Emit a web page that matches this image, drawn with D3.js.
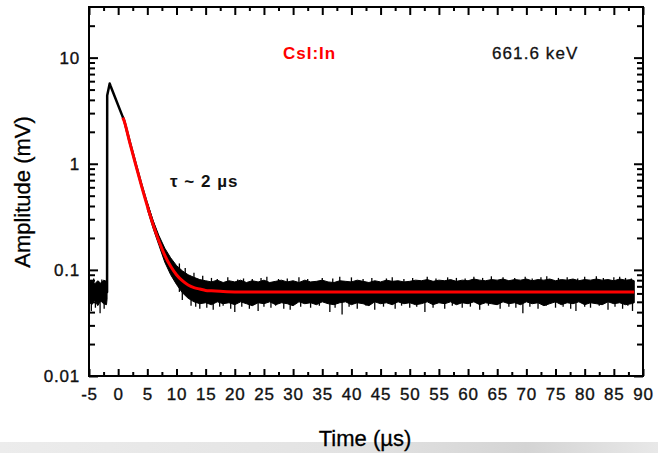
<!DOCTYPE html>
<html>
<head>
<meta charset="utf-8">
<script src="https://cdn.jsdelivr.net/npm/d3@7"></script>
<style>
  body { margin: 0; background: #fff; }
  svg { display: block; font-family: Arial, "Liberation Sans", sans-serif; }
</style>
</head>
<body>
<div id="chart"></div>
<script>

// axis ticks
var xTicks = [-5, 0, 5, 10, 15, 20, 25, 30, 35, 40, 45, 50, 55, 60, 65, 70, 75, 80, 85, 90];
var yTicks = [0.01, 0.1, 1, 10];
var yTickLabels = ['0.01', '0.1', '1', '10'];

var pulseTime = [-5, -1.9, -1.88, -1.45, -1.3, 0.8, 1, 2, 3, 4, 5, 6, 7, 8, 9];
var pulseAmp  = [0.062, 0.062, 4.4, 5.7, 5.4, 2.75, 2.6, 1.6, 1.0, 0.63, 0.41, 0.275, 0.19, 0.14, 0.11];

// exponential fit (red), tau ~ 2 us
var fitTime = [0.8, 1, 2, 3, 4, 5, 6, 7, 8, 9, 10, 11, 12, 13, 14, 15, 16, 18, 20, 88.5];
var fitAmp  = [2.72, 2.55, 1.57, 0.98, 0.62, 0.40, 0.266, 0.186, 0.137, 0.108, 0.090, 0.079, 0.072, 0.068, 0.066, 0.064, 0.0635, 0.0625, 0.062, 0.062];

// noise band before the trigger
var preTime = [-5, -4.5, -4, -3.5, -3, -2.5, -2, -1.9];
var preLow  = [0.050, 0.047, 0.052, 0.046, 0.051, 0.048, 0.047, 0.053];
var preHigh = [0.077, 0.080, 0.074, 0.079, 0.075, 0.080, 0.078, 0.072];

// noise band on the tail
var postTime = [5, 6, 7, 8, 9, 10, 11, 12, 13, 14, 15, 16, 17, 18, 19, 20, 21, 22, 23, 24, 25, 26, 27, 28, 29, 30,
                31, 32, 33, 34, 35, 36, 37, 38, 39, 40, 41, 42, 43, 44, 45, 46, 47, 48, 49, 50, 51, 52, 53, 54, 55,
                56, 57, 58, 59, 60, 61, 62, 63, 64, 65, 66, 67, 68, 69, 70, 71, 72, 73, 74, 75, 76, 77, 78, 79, 80,
                81, 82, 83, 84, 85, 86, 87, 88, 88.5];
var postLow  = [0.37, 0.245, 0.17, 0.118, 0.090, 0.073, 0.061, 0.054, 0.050, 0.048, 0.049, 0.047, 0.050, 0.048, 0.049,
                0.047, 0.050, 0.048, 0.046, 0.049, 0.048, 0.050, 0.047, 0.049, 0.048, 0.046, 0.050, 0.048, 0.049, 0.047,
                0.050, 0.048, 0.047, 0.049, 0.050, 0.047, 0.049, 0.048, 0.046, 0.050, 0.048, 0.049, 0.047, 0.050, 0.048,
                0.049, 0.047, 0.048, 0.050, 0.047, 0.049, 0.048, 0.050, 0.047, 0.049, 0.048, 0.050, 0.047, 0.049, 0.048,
                0.047, 0.050, 0.048, 0.049, 0.047, 0.050, 0.048, 0.049, 0.046, 0.048, 0.050, 0.047, 0.049, 0.048, 0.050,
                0.047, 0.049, 0.048, 0.047, 0.050, 0.048, 0.049, 0.047, 0.048, 0.049];
var postHigh = [0.43, 0.29, 0.21, 0.16, 0.13, 0.11, 0.098, 0.090, 0.085, 0.081, 0.079, 0.077, 0.080, 0.076, 0.079,
                0.077, 0.080, 0.076, 0.079, 0.077, 0.080, 0.076, 0.078, 0.080, 0.077, 0.079, 0.076, 0.080, 0.077, 0.078,
                0.080, 0.077, 0.076, 0.079, 0.078, 0.077, 0.080, 0.078, 0.076, 0.079, 0.077, 0.080, 0.078, 0.079, 0.077,
                0.078, 0.080, 0.079, 0.081, 0.078, 0.080, 0.079, 0.081, 0.078, 0.080, 0.079, 0.082, 0.080, 0.079, 0.081,
                0.080, 0.082, 0.079, 0.081, 0.080, 0.082, 0.079, 0.081, 0.080, 0.082, 0.079, 0.081, 0.080, 0.082, 0.079,
                0.081, 0.080, 0.082, 0.080, 0.081, 0.079, 0.082, 0.080, 0.081, 0.079];

// single spikes that stick out of the band
var downTime = [-4.6, -3.9, -3.1, -2.4, 11, 12.5, 13.3, 14, 15.2, 16.3, 17.4, 18, 19.3, 20, 21.2, 22.5, 24, 25, 26.2,
                27, 28.4, 29.5, 31.3, 33, 34.5, 36.3, 37.2, 38.4, 39.6, 41, 42.5, 44, 45.5, 47.5, 48.6, 50, 51.2,
                52.6, 54, 56, 57.3, 59, 60.4, 62, 63.5, 65.5, 67, 68.2, 69.4, 70.6, 72, 73.4, 75, 76.3, 77.6, 78.5,
                80, 81, 82.5, 84, 85.2, 86.5, 87.4, 88.2];
var downAmp  = [0.041, 0.044, 0.039, 0.043, 0.052, 0.046, 0.045, 0.043, 0.044, 0.042, 0.045, 0.046, 0.043, 0.040,
                0.045, 0.043, 0.041, 0.045, 0.044, 0.046, 0.043, 0.042, 0.045, 0.044, 0.046, 0.040, 0.044, 0.038,
                0.045, 0.043, 0.046, 0.042, 0.045, 0.043, 0.046, 0.044, 0.045, 0.040, 0.044, 0.043, 0.046, 0.044,
                0.045, 0.042, 0.046, 0.043, 0.045, 0.044, 0.039, 0.045, 0.043, 0.046, 0.044, 0.045, 0.043, 0.041,
                0.045, 0.044, 0.046, 0.042, 0.045, 0.043, 0.046, 0.041];
var upTime = [-4.2, -2.8, 10.5, 11.5, 13, 14.5, 16, 17, 18.8, 20.5, 21.5, 23, 24.5, 25.5, 27.5, 29, 31, 32.5, 35, 36.8,
              38, 40, 42, 43.5, 46, 47, 49, 50.5, 53, 54.5, 56.5, 58, 59.5, 61, 62.5, 64, 66, 68, 69.8, 71, 72.5,
              73.5, 75.5, 77, 78.8, 80, 82, 83.2, 85, 86, 87, 88];
var upAmp  = [0.083, 0.081, 0.115, 0.104, 0.094, 0.088, 0.084, 0.082, 0.085, 0.081, 0.083, 0.082, 0.084, 0.086, 0.082,
              0.083, 0.085, 0.082, 0.084, 0.083, 0.086, 0.085, 0.082, 0.084, 0.083, 0.085, 0.082, 0.084, 0.086, 0.083,
              0.085, 0.084, 0.083, 0.086, 0.084, 0.087, 0.085, 0.084, 0.086, 0.083, 0.085, 0.087, 0.084, 0.085, 0.083,
              0.086, 0.087, 0.084, 0.085, 0.086, 0.084, 0.083];

var width = 658;
var height = 453;
var plotLeft = 89, plotRight = 643, plotTop = 7, plotBottom = 376;

var svg = d3.select('#chart').append('svg')
    .attr('width', width)
    .attr('height', height);

// grey smudge along the bottom edge of the slide
var grad = svg.append('defs').append('linearGradient')
    .attr('id', 'smudge').attr('x1', 0).attr('x2', 1).attr('y1', 0).attr('y2', 0);
grad.append('stop').attr('offset', '0%').attr('stop-color', '#ececec');
grad.append('stop').attr('offset', '55%').attr('stop-color', '#e2e2e2');
grad.append('stop').attr('offset', '80%').attr('stop-color', '#d4d4d4');
grad.append('stop').attr('offset', '100%').attr('stop-color', '#e8e8e8');
svg.append('rect')
    .attr('x', 0).attr('y', 442).attr('width', width).attr('height', height - 442)
    .attr('fill', 'url(#smudge)');

var x = d3.scaleLinear().domain([-5, 90]).range([plotLeft, plotRight]);
var y = d3.scaleLog().domain([0.01, 30]).range([plotBottom, plotTop]);

var xMinor = d3.range(-2.5, 90, 5);
var yMinor = [];
yTicks.forEach(function (d) {
    for (var k = 2; k <= 9; k++) {
        if (d * k < 30) yMinor.push(d * k);
    }
});

// data layers
var plot = svg.append('g');

function band(t, lo, hi) {
    var pts = t.map(function (d, i) { return [d, lo[i], hi[i]]; });
    plot.append('path')
        .datum(pts)
        .attr('fill', '#000')
        .attr('stroke', '#000')
        .attr('stroke-width', 1)
        .attr('d', d3.area()
            .x(function (d) { return x(d[0]); })
            .y0(function (d) { return y(d[1]); })
            .y1(function (d) { return y(d[2]); }));
}
band(preTime, preLow, preHigh);
band(postTime, postLow, postHigh);

function spikes(cls, t, v) {
    plot.selectAll('line.' + cls)
        .data(t)
        .enter().append('line')
        .attr('class', cls)
        .attr('x1', function (d) { return x(d); })
        .attr('x2', function (d) { return x(d); })
        .attr('y1', y(0.062))
        .attr('y2', function (d, i) { return y(v[i]); })
        .attr('stroke', '#000')
        .attr('stroke-width', 1.3);
}
spikes('down', downTime, downAmp);
spikes('up', upTime, upAmp);

plot.append('path')
    .datum(pulseTime.map(function (d, i) { return [d, pulseAmp[i]]; }))
    .attr('fill', 'none')
    .attr('stroke', '#000')
    .attr('stroke-width', 2.5)
    .attr('stroke-linejoin', 'round')
    .attr('d', d3.line()
        .x(function (d) { return x(d[0]); })
        .y(function (d) { return y(d[1]); }));

plot.append('path')
    .datum(fitTime.map(function (d, i) { return [d, fitAmp[i]]; }))
    .attr('fill', 'none')
    .attr('stroke', '#ff0000')
    .attr('stroke-width', 3)
    .attr('d', d3.line().curve(d3.curveMonotoneX)
        .x(function (d) { return x(d[0]); })
        .y(function (d) { return y(d[1]); }));

// axes, ticks pointing inwards on all four sides
function styleAxis(g) {
    g.select('.domain').remove();
    g.selectAll('.tick line').attr('stroke', '#000').attr('stroke-width', 2);
    g.selectAll('.tick text')
        .attr('fill', '#111')
        .attr('stroke', '#111')
        .attr('stroke-width', 0.35)
        .style('font-size', '17px')
        .style('letter-spacing', '0.8px');
}

svg.append('g')
    .attr('transform', 'translate(0,' + plotBottom + ')')
    .call(d3.axisBottom(x).tickValues(xTicks).tickSize(-7).tickPadding(8)
        .tickFormat(function (d) { return String(d); }))
    .call(styleAxis)
    .selectAll('.tick text').attr('dy', '0.95em');
svg.append('g')
    .attr('transform', 'translate(0,' + plotBottom + ')')
    .call(d3.axisBottom(x).tickValues(xMinor).tickSize(-4).tickFormat(''))
    .call(styleAxis);
svg.append('g')
    .attr('transform', 'translate(0,' + plotTop + ')')
    .call(d3.axisTop(x).tickValues(xTicks).tickSize(-8).tickFormat(''))
    .call(styleAxis);
svg.append('g')
    .attr('transform', 'translate(0,' + plotTop + ')')
    .call(d3.axisTop(x).tickValues(xMinor).tickSize(-4).tickFormat(''))
    .call(styleAxis);

svg.append('g')
    .attr('transform', 'translate(' + plotLeft + ',0)')
    .call(d3.axisLeft(y).tickValues(yTicks).tickSize(-9).tickPadding(9)
        .tickFormat(function (d, i) { return yTickLabels[i]; }))
    .call(styleAxis);
svg.append('g')
    .attr('transform', 'translate(' + plotLeft + ',0)')
    .call(d3.axisLeft(y).tickValues(yMinor).tickSize(-6).tickFormat(''))
    .call(styleAxis);
svg.append('g')
    .attr('transform', 'translate(' + plotRight + ',0)')
    .call(d3.axisRight(y).tickValues(yTicks).tickSize(-9).tickFormat(''))
    .call(styleAxis);
svg.append('g')
    .attr('transform', 'translate(' + plotRight + ',0)')
    .call(d3.axisRight(y).tickValues(yMinor).tickSize(-6).tickFormat(''))
    .call(styleAxis);

// frame
svg.append('rect')
    .attr('x', plotLeft).attr('y', plotTop)
    .attr('width', plotRight - plotLeft).attr('height', plotBottom - plotTop)
    .attr('fill', 'none')
    .attr('stroke', '#000')
    .attr('stroke-width', 2);

// axis titles
svg.append('text')
    .attr('x', 365).attr('y', 446)
    .attr('text-anchor', 'middle')
    .attr('stroke', '#000').attr('stroke-width', 0.3)
    .style('font-size', '22px')
    .text('Time (\u00b5s)');

svg.append('text')
    .attr('transform', 'translate(30,192) rotate(-90)')
    .attr('text-anchor', 'middle')
    .attr('stroke', '#000').attr('stroke-width', 0.3)
    .style('font-size', '22px')
    .text('Amplitude (mV)');

// annotations
svg.append('text')
    .attr('x', 283).attr('y', 59)
    .attr('fill', '#ff0000')
    .style('font-size', '17px')
    .style('font-weight', 'bold')
    .style('letter-spacing', '1px')
    .text('CsI:In');

svg.append('text')
    .attr('x', 492).attr('y', 59)
    .attr('fill', '#111')
    .attr('stroke', '#111').attr('stroke-width', 0.3)
    .style('font-size', '17px')
    .style('letter-spacing', '1.1px')
    .text('661.6 keV');

svg.append('text')
    .attr('x', 170).attr('y', 187)
    .attr('fill', '#111')
    .style('font-size', '17px')
    .style('font-weight', 'bold')
    .style('letter-spacing', '1px')
    .text('\u03c4 ~ 2 \u00b5s');

</script>
</body>
</html>
